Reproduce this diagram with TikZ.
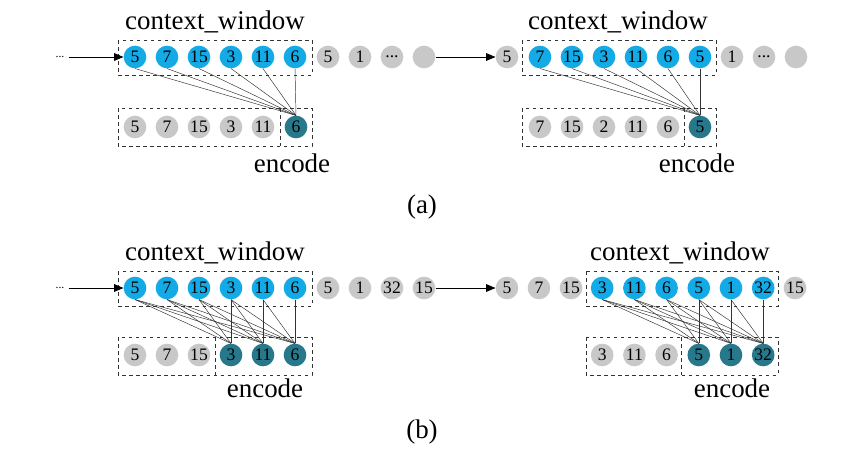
\documentclass[tikz,border=0pt]{standalone}
\usepackage{fontspec}
\setmainfont{Liberation Serif}
\usetikzlibrary{arrows, positioning}
\definecolor{tokenblue}{RGB}{20, 170, 230}
\definecolor{encteal}{RGB}{40, 120, 140}
\definecolor{tokengray}{RGB}{200, 200, 200}

\begin{document}
\begin{tikzpicture}[
    x=0.03cm, y=-0.03cm,
    tok/.style={circle, minimum size=0.68cm, inner sep=0pt, font=\fontsize{15}{15}\selectfont},
    win/.style={tok, fill=tokenblue},
    enc/.style={tok, fill=encteal},
    old/.style={tok, fill=tokengray},
    frame/.style={draw, dashed, thick, black!80},
    lbl/.style={font=\fontsize{23}{23}\selectfont},
    link/.style={black!80, thin},
    arrow/.style={-triangle 45, thick}
]
    \useasboundingbox (0,0) rectangle (841,454);

    % (a) left
    \foreach \v [count=\i] in {5,7,15,3,11,6}
        \node[win] (al\i) at (103+32*\i,57) {\v};
    \node[old] (alg1) at (328,57) {5};
    \node[old] (alg2) at (360,57) {1};
    \node[old] (alg3) at (392,57) {...};
    \node[old] (alg4) at (424,57) {};
    \foreach \v [count=\i] in {5,7,15,3,11}
        \node[old] (alb\i) at (103+32*\i,127) {\v};
    \node[enc] (alb6) at (296,127) {6};
    \node (adots) at (60,57) {...};
    \draw[frame] (118,40) rectangle (312,75);
    \draw[frame] (118,108) rectangle (312,146);
    \draw[frame] (280,108) -- (280,146);
    \node[lbl] (actx) at (215,22) {context\_window};
    \node[lbl] (aenc) at (292,163) {encode};
    \draw[arrow] (adots) -- (al1);
    \foreach \i in {1,...,6}
        \draw[link] (al\i.south) -- (alb6.north);

    % (a) right
    \node[old] (arg0) at (507,57) {5};
    \foreach \v [count=\i] in {7,15,3,11,6,5}
        \node[win] (ar\i) at (508+32*\i,57) {\v};
    \node[old] (arg1) at (732,57) {1};
    \node[old] (arg2) at (764,57) {...};
    \node[old] (arg3) at (796,57) {};
    \foreach \v [count=\i] in {7,15,2,11,6}
        \node[old] (arb\i) at (508+32*\i,127) {\v};
    \node[enc] (arb6) at (700,127) {5};
    \draw[frame] (522,40) rectangle (716,75);
    \draw[frame] (522,108) rectangle (716,146);
    \draw[frame] (684,108) -- (684,146);
    \node[lbl] (actx2) at (618,22) {context\_window};
    \node[lbl] (aenc2) at (697,163) {encode};
    \draw[arrow] (alg4) -- (arg0);
    \foreach \i in {1,...,6}
        \draw[link] (ar\i.south) -- (arb6.north);
    \node[lbl] (acap) at (422,207) {(a)};

    % (b) left
    \foreach \v [count=\i] in {5,7,15,3,11,6}
        \node[win] (bl\i) at (103+32*\i,288) {\v};
    \foreach \v [count=\i] in {5,1,32,15}
        \node[old] (blg\i) at (296+32*\i,288) {\v};
    \foreach \v [count=\i] in {5,7,15}
        \node[old] (blb\i) at (103+32*\i,355) {\v};
    \foreach \v [count=\i from 4] in {3,11,6}
        \node[enc] (blb\i) at (103+32*\i,355) {\v};
    \node (bdots) at (60,288) {...};
    \draw[frame] (118,271) rectangle (312,306);
    \draw[frame] (118,337) rectangle (312,375);
    \draw[frame] (215,337) -- (215,375);
    \node[lbl] (bctx) at (215,253) {context\_window};
    \node[lbl] (benc) at (265,388) {encode};
    \draw[arrow] (bdots) -- (bl1);
    \foreach \j in {4,5,6}
        \foreach \i in {1,...,\j}
            \draw[link] (bl\i.south) -- (blb\j.north);

    % (b) right
    \foreach \v [count=\i] in {5,7,15}
        \node[old] (brg\i) at (475+32*\i,288) {\v};
    \foreach \v [count=\i] in {3,11,6,5,1,32}
        \node[win] (br\i) at (570+32.2*\i,288) {\v};
    \node[old] (brg4) at (795,288) {15};
    \foreach \v [count=\i] in {3,11,6}
        \node[old] (brb\i) at (570+32.2*\i,355) {\v};
    \foreach \v [count=\i from 4] in {5,1,32}
        \node[enc] (brb\i) at (570+32.2*\i,355) {\v};
    \draw[frame] (586,271) rectangle (778,306);
    \draw[frame] (586,337) rectangle (778,375);
    \draw[frame] (681,337) -- (681,375);
    \node[lbl] (bctx2) at (680,253) {context\_window};
    \node[lbl] (benc2) at (732,388) {encode};
    \draw[arrow] (blg4) -- (brg1);
    \foreach \j in {4,5,6}
        \foreach \i in {1,...,\j}
            \draw[link] (br\i.south) -- (brb\j.north);
    \node[lbl] (bcap) at (422,432) {(b)};
\end{tikzpicture}
\end{document}
